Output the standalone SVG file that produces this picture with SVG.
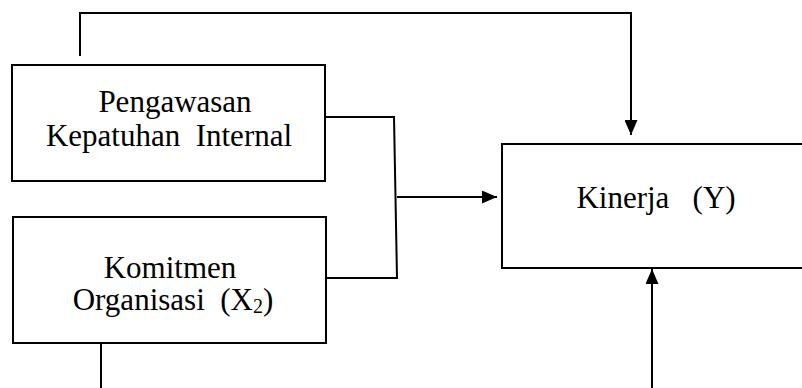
<svg xmlns="http://www.w3.org/2000/svg" width="802" height="388" viewBox="0 0 802 388">
  <style>
    .box { fill: #fff; stroke: #000; stroke-width: 2; }
    .line { fill: none; stroke: #000; stroke-width: 2; }
    .label { font-family: "Liberation Serif", "Times New Roman", serif; font-size: 31px; fill: #000; text-anchor: middle; white-space: pre; }
    .sub { font-size: 20px; }
  </style>
  <defs>
    <marker id="arrow" viewBox="0 0 15 13" refX="15" refY="6.5" markerWidth="15" markerHeight="13" markerUnits="userSpaceOnUse" orient="auto">
      <path d="M0,0 L15,6.5 L0,13 Z" fill="#000"/>
    </marker>
  </defs>

  <!-- connectors -->
  <g id="connectors">
    <path class="line" d="M80,56 V13 H631 V135" marker-end="url(#arrow)"/>
    <path class="line" d="M325,117 H394 L397,278 H326"/>
    <path class="line" d="M397,197 H497" marker-end="url(#arrow)"/>
    <path class="line" d="M101,343 V388"/>
    <path class="line" d="M652,388 V269" marker-end="url(#arrow)"/>
  </g>

  <!-- X1 -->
  <g id="pengawasan">
    <rect class="box" x="12" y="65" width="313" height="116"/>
    <text class="label" x="175" y="112">Pengawasan</text>
    <text class="label" x="169" y="146">Kepatuhan  Internal</text>
  </g>

  <!-- X2 -->
  <g id="komitmen">
    <rect class="box" x="13" y="217" width="313" height="126"/>
    <text class="label" x="170" y="278">Komitmen</text>
    <text class="label" x="173" y="310">Organisasi  (X<tspan class="sub" dy="3">2</tspan><tspan dy="-3">)</tspan></text>
  </g>

  <!-- Y -->
  <g id="kinerja">
    <rect class="box" x="502" y="144" width="320" height="124"/>
    <text class="label" x="656" y="208">Kinerja   (Y)</text>
  </g>
</svg>
